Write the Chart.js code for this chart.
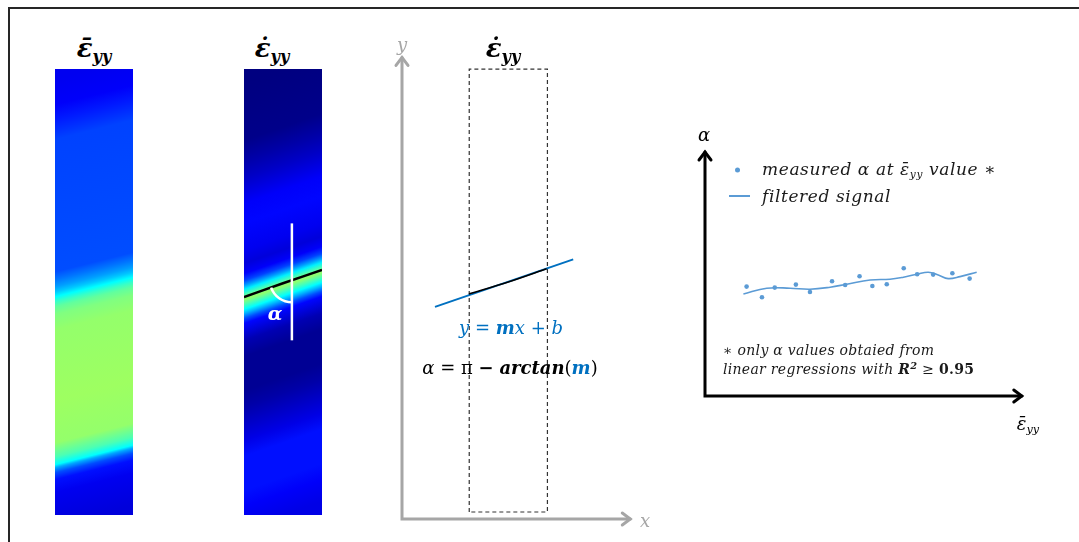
<!DOCTYPE html>
<html>
<head>
<meta charset="utf-8">
<script src="https://cdn.jsdelivr.net/npm/chart.js@4.4.1/dist/chart.umd.min.js"></script>
<style>
    html, body { margin: 0; padding: 0; background: #fff; }
    body { width: 1079px; height: 542px; position: relative; overflow: hidden; font-family: "DejaVu Serif", serif; }
    .frame { position: absolute; left: 8px; top: 7px; right: -5px; bottom: -5px; border-top: 2px solid #262626; border-left: 2px solid #262626; }
    canvas { position: absolute; }
    .t { position: absolute; transform: translate(-50%, -50%); white-space: nowrap; line-height: 1; }
    .l { position: absolute; transform: translateY(-50%); white-space: nowrap; line-height: 1; }
    sub { font-size: 0.62em; vertical-align: -0.32em; }
    .title { font-size: 26px; font-weight: bold; }
    .blue { color: #0070c0; }
    .gray { color: #a6a6a6; }
    .leg { font-size: 17px; font-style: italic; color: #1a1a1a; letter-spacing: 0.6px; }
    .note { font-size: 14px; font-style: italic; color: #1a1a1a; letter-spacing: 0.3px; }
</style>
</head>
<body>
<div class="frame"></div>

<canvas id="meanMap" width="78" height="446" style="left:55px;top:69px"></canvas>
<canvas id="rateMap" width="78" height="446" style="left:244px;top:69px"></canvas>
<canvas id="fitChart" width="280" height="520" style="left:380px;top:20px"></canvas>
<canvas id="alphaChart" width="389" height="300" style="left:690px;top:130px"></canvas>

<div class="t title" style="left:94px;top:50px"><i>ε̄</i><sub><i>yy</i></sub></div>
<div class="t title" style="left:272px;top:50px"><i>ε̇</i><sub><i>yy</i></sub></div>
<div class="t title" style="left:503px;top:50px"><i>ε̇</i><sub><i>yy</i></sub></div>
<div class="t" style="left:275px;top:313px;color:#fff;font-size:19px;font-weight:bold;font-style:italic">α</div>

<div class="t gray" style="left:402px;top:45px;font-size:18px;font-style:italic">y</div>
<div class="t gray" style="left:645px;top:521px;font-size:18px;font-style:italic">x</div>
<div class="t blue" style="left:511px;top:328px;font-size:18px;font-style:italic">y = <b>m</b>x + b</div>
<div class="t" style="left:510px;top:368px;font-size:18px"><i>α</i> = π <b>−</b> <b><i>arctan</i></b>(<b class="blue"><i>m</i></b>)</div>

<div class="t" style="left:704px;top:135px;font-size:18px;font-style:italic">α</div>
<div class="t" style="left:1028px;top:425px;font-size:18px;font-style:italic">ε̄<sub>yy</sub></div>
<div class="l" style="left:735px;top:170px;width:5px;height:5px;border-radius:50%;background:#5b9bd5"></div>
<div class="l leg" style="left:762px;top:170px">measured α at ε̄<sub>yy</sub> value ∗</div>
<div class="l" style="left:729px;top:196px;width:21px;height:0;border-top:2px solid #5b9bd5"></div>
<div class="l leg" style="left:762px;top:196px">filtered signal</div>
<div class="l note" style="left:723px;top:350px">∗ only α values obtaied from</div>
<div class="l note" style="left:723px;top:368px">linear regressions with <b>R<sup style="font-size:0.7em">2</sup></b> ≥ <b style="font-style:normal">0.95</b></div>

<script>
// specimen size (mm)
const specW = 5.0;
const specH = 28.6;

// mean strain field: level (0..1 of jet colormap) along the specimen centre, mm from bottom
const meanPos = [0, 2.05, 2.89, 3.33, 3.66, 3.85, 4.36, 5.26, 8.0, 12.5, 13.47, 13.98, 14.30, 14.62, 14.94, 15.26, 15.71, 16.22, 24.7, 25.98, 26.94, 28.6];
const meanLevel = [0.09, 0.11, 0.14, 0.20, 0.29, 0.375, 0.45, 0.52, 0.53, 0.52, 0.50, 0.47, 0.43, 0.375, 0.32, 0.28, 0.24, 0.20, 0.19, 0.15, 0.12, 0.11];
const meanTilt = 0.25;

// strain rate field
const ratePos = [0, 1.41, 2.44, 4.62, 5.64, 6.73, 7.82, 8.85, 11.03, 12.06, 13.15, 13.47, 13.79, 14.05, 14.37, 14.69, 15.01, 15.33, 15.58, 15.9, 16.35, 17.0, 17.83, 19.56, 20.84, 22.44, 23.6, 24.88, 28.6];
const rateLevel = [0.10, 0.12, 0.14, 0.14, 0.10, 0.07, 0.04, 0.02, 0.02, 0.05, 0.13, 0.20, 0.30, 0.375, 0.45, 0.52, 0.45, 0.36, 0.28, 0.19, 0.12, 0.09, 0.11, 0.13, 0.12, 0.07, 0.04, 0.01, 0.0];
const rateTilt = 0.348;

// band centre line and vertical reference on the rate map
const bandX = [0, 2.5, 5];
const bandY = [13.97, 14.86, 15.71];
const refX = [3.07, 3.07];
const refY = [11.2, 18.7];

// x-y frame sketch
const outlineX = [4.3, 4.3, 9.3, 9.3, 4.3];
const outlineY = [0.45, 28.85, 28.85, 0.45, 0.45];
const segX = [4.28, 6.8, 9.25];
const segY = [14.43, 15.2, 16.05];
const fitX = [2.11, 10.95];
const fitY = [13.6, 16.65];

// alpha vs mean strain
const measX = [1.30, 1.78, 2.18, 2.84, 3.28, 3.97, 4.38, 4.83, 5.23, 5.68, 6.21, 6.63, 7.13, 7.73, 8.27];
const measY = [54.7, 49.4, 54.2, 55.7, 52.0, 57.4, 55.5, 59.9, 55.0, 55.9, 63.9, 60.9, 60.7, 61.4, 58.7];
const filtX = [1.20, 1.93, 2.66, 3.28, 3.91, 4.43, 5.16, 5.78, 6.20, 6.63, 6.98, 7.29, 7.60, 7.97, 8.49];
const filtY = [51.0, 53.9, 53.9, 53.4, 54.4, 55.9, 58.0, 58.4, 59.4, 60.9, 61.9, 60.5, 58.7, 59.7, 61.9];

const pts = (xs, ys) => xs.map((x, i) => ({ x, y: ys[i] }));

function jet(v) {
    const c = x => Math.round(255 * Math.max(0, Math.min(1, x)));
    return `rgb(${c(1.5 - Math.abs(4 * v - 3))},${c(1.5 - Math.abs(4 * v - 2))},${c(1.5 - Math.abs(4 * v - 1))})`;
}

// tilted linear gradient so the bands run parallel to the shear band
function specimenFill(pos, level, tilt) {
    return (ctx) => {
        const chart = ctx.chart;
        if (!chart.chartArea) return 'transparent';
        const sx = chart.scales.x, sy = chart.scales.y;
        const xc = sx.getPixelForValue(specW / 2);
        const top = sy.getPixelForValue(specH), bot = sy.getPixelForValue(0);
        const H = bot - top;
        const pxX = sx.getPixelForValue(1) - sx.getPixelForValue(0);
        const pxY = sy.getPixelForValue(0) - sy.getPixelForValue(1);
        const s = -tilt * pxY / pxX;
        const k = H / (1 + s * s);
        const g = chart.ctx.createLinearGradient(xc, top, xc - s * k, top + k);
        pos.forEach((p, i) => {
            const t = (sy.getPixelForValue(p) - top) / H;
            g.addColorStop(Math.min(1, Math.max(0, t)), jet(level[i]));
        });
        return g;
    };
}

const hidden = {
    x: { type: 'linear', display: false },
    y: { type: 'linear', display: false }
};

const baseOptions = (scales, padding) => ({
    responsive: false,
    animation: false,
    events: [],
    layout: { padding },
    scales,
    plugins: { legend: { display: false }, tooltip: { enabled: false } }
});

const specimenSet = (pos, level, tilt) => ({
    data: pts([0, specW], [specH, specH]),
    fill: 'origin',
    backgroundColor: specimenFill(pos, level, tilt),
    borderWidth: 0,
    pointRadius: 0,
    order: 10
});

// axes with open arrow heads, drawn from the scales
const arrowAxes = {
    id: 'arrowAxes',
    beforeDatasetsDraw(chart, args, opts) {
        const { ctx, scales: { x, y } } = chart;
        const x0 = x.getPixelForValue(x.min), y0 = y.getPixelForValue(y.min);
        const xe = x.getPixelForValue(opts.xEnd), ye = y.getPixelForValue(opts.yEnd);
        ctx.save();
        ctx.strokeStyle = opts.color;
        ctx.lineWidth = opts.width;
        ctx.lineCap = 'round';
        ctx.lineJoin = 'miter';
        ctx.beginPath();
        ctx.moveTo(x0, ye); ctx.lineTo(x0, y0); ctx.lineTo(xe, y0);
        ctx.stroke();
        const h = opts.head;
        ctx.beginPath();
        ctx.moveTo(x0 - h * 0.75, ye + h); ctx.lineTo(x0, ye); ctx.lineTo(x0 + h * 0.75, ye + h);
        ctx.moveTo(xe - h, y0 - h * 0.75); ctx.lineTo(xe, y0); ctx.lineTo(xe - h, y0 + h * 0.75);
        ctx.stroke();
        ctx.restore();
    }
};

// angle arc between the band line and the vertical reference
const angleArc = {
    id: 'angleArc',
    afterDatasetsDraw(chart) {
        const { ctx, scales: { x, y } } = chart;
        const rx = refX[0];
        let i = 0;
        while (i < bandX.length - 2 && bandX[i + 1] < rx) i++;
        const f = (rx - bandX[i]) / (bandX[i + 1] - bandX[i]);
        const ry = bandY[i] + f * (bandY[i + 1] - bandY[i]);
        const cx = x.getPixelForValue(rx), cy = y.getPixelForValue(ry);
        const lx = x.getPixelForValue(bandX[0]), ly = y.getPixelForValue(bandY[0]);
        const a = Math.atan2(ly - cy, lx - cx);
        ctx.save();
        ctx.strokeStyle = '#fff';
        ctx.lineWidth = 2.5;
        ctx.beginPath();
        ctx.arc(cx, cy, 22, Math.PI / 2, a);
        ctx.stroke();
        ctx.restore();
    }
};

new Chart(document.getElementById('meanMap'), {
    type: 'line',
    data: { datasets: [specimenSet(meanPos, meanLevel, meanTilt)] },
    options: baseOptions({
        x: { ...hidden.x, min: 0, max: specW },
        y: { ...hidden.y, min: 0, max: specH }
    }, 0)
});

new Chart(document.getElementById('rateMap'), {
    type: 'line',
    data: {
        datasets: [
            { data: pts(refX, refY), borderColor: '#ffffff', borderWidth: 2.5, pointRadius: 0, order: 1, clip: false },
            { data: pts(bandX, bandY), borderColor: '#000000', borderWidth: 2.5, pointRadius: 0, tension: 0.3, order: 2, clip: false },
            specimenSet(ratePos, rateLevel, rateTilt)
        ]
    },
    options: baseOptions({
        x: { ...hidden.x, min: 0, max: specW },
        y: { ...hidden.y, min: 0, max: specH }
    }, 0),
    plugins: [angleArc]
});

new Chart(document.getElementById('fitChart'), {
    type: 'line',
    data: {
        datasets: [
            { data: pts(segX, segY), borderColor: '#000000', borderWidth: 1.5, pointRadius: 0, tension: 0.3 },
            { data: pts(fitX, fitY), borderColor: '#0070c0', borderWidth: 2, pointRadius: 0 },
            { data: pts(outlineX, outlineY), borderColor: '#333333', borderWidth: 1.2, borderDash: [4, 3], pointRadius: 0, tension: 0 }
        ]
    },
    options: {
        ...baseOptions({
            x: { ...hidden.x, min: 0, max: 16.5 },
            y: { ...hidden.y, min: 0, max: 32 }
        }, { left: 22, right: 0, top: 0, bottom: 21 }),
        plugins: {
            legend: { display: false }, tooltip: { enabled: false },
            arrowAxes: { xEnd: 14.6, yEnd: 29.6, color: '#a6a6a6', width: 3, head: 8 }
        }
    },
    plugins: [arrowAxes]
});

new Chart(document.getElementById('alphaChart'), {
    type: 'line',
    data: {
        datasets: [
            { type: 'scatter', data: pts(measX, measY), pointRadius: 2.3, pointBackgroundColor: '#5b9bd5', pointBorderWidth: 0, showLine: false },
            { data: pts(filtX, filtY), borderColor: '#5b9bd5', borderWidth: 1.6, pointRadius: 0, tension: 0.4 }
        ]
    },
    options: {
        ...baseOptions({
            x: { ...hidden.x, min: 0, max: 10 },
            y: { ...hidden.y, min: 0, max: 128 }
        }, { left: 15, right: 54, top: 10, bottom: 34 }),
        plugins: {
            legend: { display: false }, tooltip: { enabled: false },
            arrowAxes: { xEnd: 9.9, yEnd: 122, color: '#000000', width: 3, head: 8 }
        }
    },
    plugins: [arrowAxes]
});
</script>
</body>
</html>
